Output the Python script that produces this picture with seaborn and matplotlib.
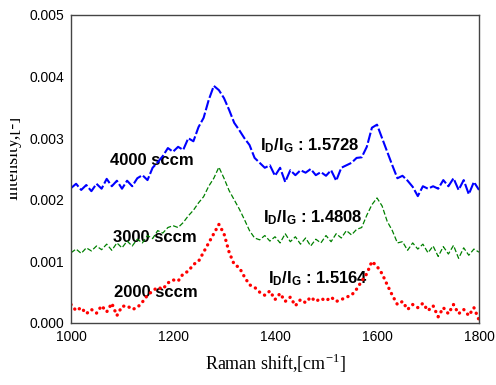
import numpy as np
import pandas as pd
import matplotlib
matplotlib.use("Agg")
import matplotlib.pyplot as plt
from matplotlib.patches import Rectangle
from matplotlib.ticker import FormatStrFormatter
import seaborn as sns

# ---------------- data ----------------
raman_shift = list(range(1000, 1801, 10))

# intensities in units of 1e-3
i_4000 = [2.19, 2.26, 2.16, 2.24, 2.14, 2.26, 2.18, 2.34, 2.22, 2.31,
          2.18, 2.31, 2.22, 2.35, 2.40, 2.32, 2.52, 2.61, 2.71, 2.84,
          2.78, 2.86, 2.81, 3.00, 2.95, 3.18, 3.33, 3.62, 3.85, 3.78,
          3.65, 3.46, 3.25, 3.13, 3.00, 2.89, 2.68, 2.60, 2.52, 2.56,
          2.39, 2.52, 2.29, 2.48, 2.40, 2.48, 2.44, 2.50, 2.40, 2.45,
          2.39, 2.48, 2.31, 2.52, 2.56, 2.60, 2.68, 2.69, 2.86, 3.17,
          3.22, 3.00, 2.78, 2.56, 2.35, 2.39, 2.31, 2.21, 2.06, 2.22,
          2.18, 2.22, 2.18, 2.32, 2.22, 2.35, 2.16, 2.32, 2.09, 2.29,
          2.16]

i_3000 = [1.14, 1.20, 1.13, 1.22, 1.17, 1.25, 1.19, 1.28, 1.18, 1.30,
          1.22, 1.33, 1.25, 1.36, 1.30, 1.42, 1.37, 1.50, 1.46, 1.55,
          1.58, 1.55, 1.63, 1.74, 1.83, 1.95, 2.05, 2.22, 2.35, 2.53,
          2.35, 2.15, 2.00, 1.85, 1.68, 1.50, 1.38, 1.35, 1.42, 1.33,
          1.40, 1.30, 1.45, 1.32, 1.40, 1.28, 1.38, 1.25, 1.36, 1.30,
          1.42, 1.32, 1.45, 1.38, 1.50, 1.43, 1.52, 1.55, 1.75, 1.92,
          2.03, 1.90, 1.65, 1.50, 1.30, 1.32, 1.18, 1.30, 1.20, 1.28,
          1.14, 1.25, 1.08, 1.24, 1.12, 1.26, 1.05, 1.22, 1.10, 1.20,
          1.15]

i_2000 = [0.30, 0.20, 0.25, 0.15, 0.22, 0.16, 0.28, 0.18, 0.32, 0.12,
          0.27, 0.28, 0.22, 0.25, 0.34, 0.45, 0.52, 0.58, 0.55, 0.65,
          0.70, 0.68, 0.80, 0.84, 0.95, 1.00, 1.15, 1.30, 1.45, 1.60,
          1.45, 1.15, 0.95, 0.90, 0.75, 0.62, 0.58, 0.50, 0.45, 0.52,
          0.38, 0.48, 0.35, 0.42, 0.28, 0.38, 0.33, 0.42, 0.35, 0.40,
          0.36, 0.42, 0.35, 0.38, 0.42, 0.45, 0.55, 0.68, 0.80, 1.00,
          0.92, 0.80, 0.62, 0.45, 0.30, 0.35, 0.22, 0.30, 0.25, 0.32,
          0.20, 0.28, 0.10, 0.25, 0.15, 0.30, 0.15, 0.22, 0.12, 0.25,
          0.05]

series_labels = ["4000 sccm", "3000 sccm", "2000 sccm"]
ratio_labels = ["1.5728", "1.4808", "1.5164"]
y_ticks = [0.000, 0.001, 0.002, 0.003, 0.004, 0.005]
x_ticks = [1000, 1200, 1400, 1600, 1800]

# ---------------- styling ----------------
sns.set_theme(style="white")
plt.rcParams["font.family"] = ["Liberation Sans", "DejaVu Sans"]
plt.rcParams["text.color"] = "black"
plt.rcParams["axes.labelcolor"] = "black"
plt.rcParams["xtick.color"] = "black"
plt.rcParams["ytick.color"] = "black"
plt.rcParams["mathtext.fontset"] = "custom"
plt.rcParams["mathtext.rm"] = "Liberation Sans:bold"
plt.rcParams["mathtext.it"] = "Liberation Sans:bold"
plt.rcParams["mathtext.bf"] = "Liberation Sans:bold"
plt.rcParams["mathtext.default"] = "bf"

fig = plt.figure(figsize=(4.96, 3.85), dpi=100)
ax = fig.add_axes([71 / 496, 62 / 385, 408 / 496, 308 / 385])

df = pd.DataFrame({
    "shift": raman_shift,
    "s4000": np.array(i_4000) * 1e-3,
    "s3000": np.array(i_3000) * 1e-3,
    "s2000": np.array(i_2000) * 1e-3,
})

sns.lineplot(data=df, x="shift", y="s4000", ax=ax, color="#0000ff",
             linewidth=1.5, linestyle=(0, (5, 1.2)))
sns.lineplot(data=df, x="shift", y="s3000", ax=ax, color="#008000",
             linewidth=0.9, linestyle=(0, (4, 1.8)))
sns.lineplot(data=df, x="shift", y="s2000", ax=ax, color="#ff0000",
             linewidth=2.4, linestyle=(0, (0.05, 1.7)),
             dash_capstyle="round")

ax.set_xlim(1000, 1800)
ax.set_ylim(0, 0.005)
ax.set_xticks(x_ticks)
ax.set_yticks(y_ticks)
ax.yaxis.set_major_formatter(FormatStrFormatter("%.3f"))
ax.tick_params(direction="in", length=5, width=1, color="#333333",
               labelsize=10, pad=5, labelcolor="black")
for sp in ax.spines.values():
    sp.set_color("#444444")
    sp.set_linewidth(1.0)

ax.set_xlabel("Raman shift,[cm$^{\\mathregular{-1}}$]",
              family=["Liberation Serif"], fontsize=13, labelpad=6,
              color="black")
ylab = ax.set_ylabel("Intensity,[-]", family=["Liberation Serif"],
                     fontsize=13, color="black")
ax.yaxis.set_label_coords((21 - 71) / 408, (323 - 158) / 308)
clip = Rectangle((10 / 496, 0), 1, 1, transform=fig.transFigure)
ylab.set_clip_path(clip)

# sample labels
label_pos = [(1076, 2.565e-3), (1082, 1.315e-3), (1084, 0.42e-3)]
for (x, y), t in zip(label_pos, series_labels):
    ax.text(x, y, t, fontsize=12, fontweight="bold", ha="left",
            va="baseline", zorder=1, color="black")

ratio_pos = [(1371, 2.81e-3), (1376, 1.64e-3), (1386, 0.65e-3)]
for (x, y), t in zip(ratio_pos, ratio_labels):
    ax.text(x, y, r"$I_D/I_G$ : " + t, fontsize=12, fontweight="bold",
            ha="left", va="baseline", zorder=1, color="black")

fig.savefig("out.png", dpi=100)
